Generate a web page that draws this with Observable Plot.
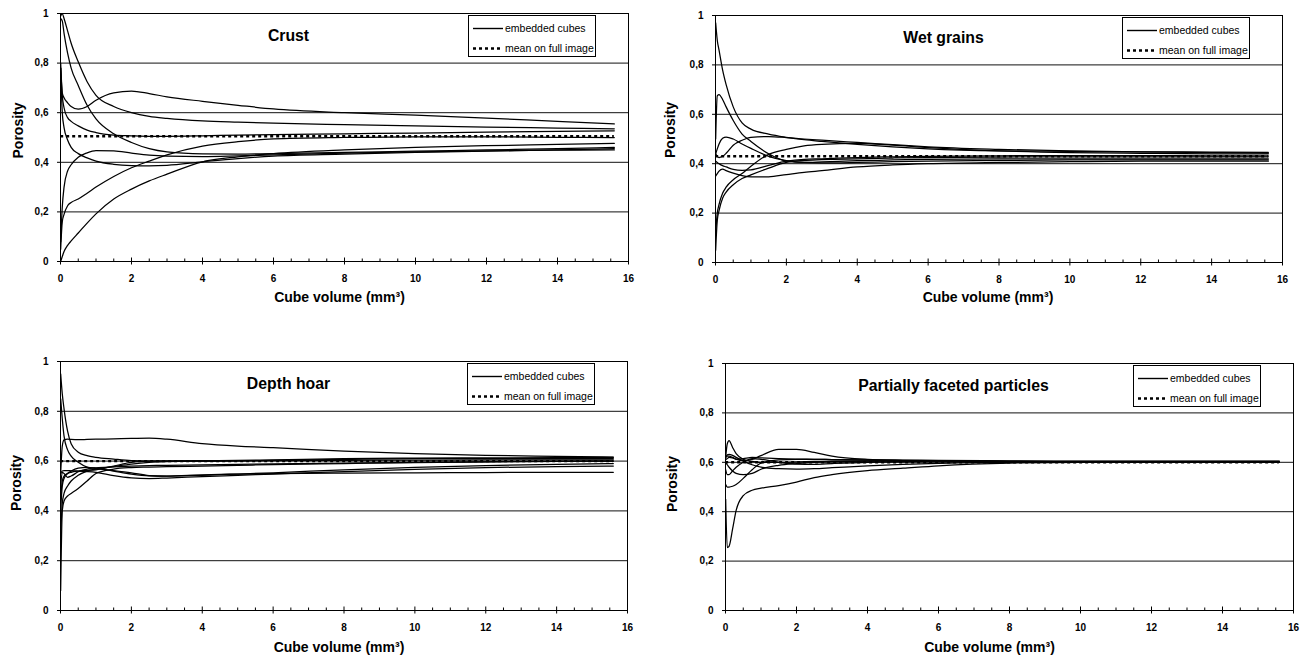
<!DOCTYPE html>
<html>
<head>
<meta charset="utf-8">
<script src="https://cdn.jsdelivr.net/npm/d3@7"></script>
<script src="https://cdn.jsdelivr.net/npm/@observablehq/plot@0.6"></script>
<style>
  html, body { margin: 0; padding: 0; background: #fff; }
  #root { position: relative; width: 1303px; height: 657px; overflow: hidden; font-family: "Liberation Sans", Arial, sans-serif; }
  .panel { position: absolute; }
  .legend { position: absolute; box-sizing: border-box; border: 1px solid #000; background: #fff; }
  .legend .row { position: absolute; left: 0; height: 14px; font-size: 10.5px; line-height: 14px; color: #000; white-space: nowrap; }
  .legend svg { position: absolute; left: 4px; top: 0; }
  .legend span { position: absolute; left: 36px; top: 0; }
</style>
</head>
<body>
<div id="root"></div>
<script>
// ---------- shared axes ----------
const X = [0.005, 0.05, 0.1, 0.2, 0.3, 0.5, 0.75, 1, 1.5, 2, 2.5, 3, 4, 5, 6, 8, 10, 12, 14, 15.6];
const yTicks = [0, 0.2, 0.4, 0.6, 0.8, 1];
const gridValues = [0.2, 0.4, 0.6, 0.8];
const xMajor = [0, 2, 4, 6, 8, 10, 12, 14, 16];
const xMinor = [0.5, 1, 1.5, 2.5, 3, 3.5, 4.5, 5, 5.5, 6.5, 7, 7.5, 8.5, 9, 9.5, 10.5, 11, 11.5, 12.5, 13, 13.5, 14.5, 15, 15.5];
const legendLabels = ["embedded cubes", "mean on full image"];
const xLabel = "Cube volume (mm³)";
const yLabel = "Porosity";

// ---------- Crust ----------
const crustMean = 0.505;
const crust1 = [0.99, 1.0, 0.98, 0.93, 0.88, 0.805, 0.725, 0.67, 0.625, 0.60, 0.585, 0.577, 0.567, 0.562, 0.558, 0.552, 0.547, 0.542, 0.538, 0.535];
const crust2 = [0.98, 0.97, 0.92, 0.84, 0.78, 0.71, 0.63, 0.575, 0.515, 0.48, 0.455, 0.442, 0.434, 0.433, 0.435, 0.44, 0.445, 0.45, 0.455, 0.46];
const crust3 = [0.78, 0.68, 0.66, 0.64, 0.625, 0.614, 0.625, 0.65, 0.68, 0.687, 0.677, 0.664, 0.646, 0.63, 0.615, 0.60, 0.59, 0.578, 0.565, 0.555];
const crust4 = [0.80, 0.67, 0.62, 0.58, 0.565, 0.547, 0.53, 0.52, 0.51, 0.507, 0.505, 0.505, 0.507, 0.51, 0.512, 0.515, 0.518, 0.522, 0.525, 0.527];
const crust5 = [0.78, 0.60, 0.54, 0.49, 0.46, 0.435, 0.418, 0.405, 0.392, 0.387, 0.386, 0.388, 0.402, 0.415, 0.425, 0.433, 0.44, 0.445, 0.45, 0.455];
const crust6 = [0.08, 0.22, 0.30, 0.365, 0.39, 0.42, 0.438, 0.447, 0.446, 0.437, 0.429, 0.425, 0.423, 0.426, 0.43, 0.437, 0.442, 0.446, 0.449, 0.45];
const crust7 = [0.05, 0.16, 0.19, 0.225, 0.238, 0.252, 0.275, 0.30, 0.343, 0.378, 0.405, 0.43, 0.465, 0.483, 0.494, 0.50, 0.503, 0.503, 0.501, 0.50];
const crust8 = [0.0, 0.02, 0.04, 0.065, 0.083, 0.115, 0.155, 0.192, 0.252, 0.292, 0.325, 0.352, 0.402, 0.422, 0.435, 0.45, 0.46, 0.467, 0.472, 0.476];

// ---------- Wet grains ----------
const wetMean = 0.43;
const wet1 = [0.97, 0.90, 0.86, 0.78, 0.72, 0.63, 0.565, 0.54, 0.52, 0.507, 0.497, 0.49, 0.478, 0.468, 0.46, 0.452, 0.45, 0.448, 0.447, 0.446];
const wet2 = [0.50, 0.675, 0.68, 0.66, 0.63, 0.575, 0.52, 0.49, 0.44, 0.41, 0.405, 0.407, 0.412, 0.415, 0.418, 0.42, 0.42, 0.42, 0.42, 0.42];
const wet3 = [0.44, 0.46, 0.48, 0.503, 0.508, 0.50, 0.48, 0.462, 0.43, 0.412, 0.405, 0.403, 0.405, 0.408, 0.41, 0.413, 0.415, 0.415, 0.415, 0.415];
const wet4 = [0.44, 0.43, 0.425, 0.43, 0.442, 0.475, 0.495, 0.507, 0.51, 0.506, 0.50, 0.495, 0.486, 0.477, 0.468, 0.458, 0.452, 0.448, 0.445, 0.443];
const wet5 = [0.41, 0.405, 0.40, 0.392, 0.387, 0.377, 0.373, 0.375, 0.393, 0.41, 0.418, 0.42, 0.425, 0.428, 0.43, 0.432, 0.433, 0.433, 0.432, 0.432];
const wet6 = [0.35, 0.36, 0.37, 0.378, 0.372, 0.362, 0.352, 0.347, 0.347, 0.356, 0.365, 0.372, 0.387, 0.395, 0.40, 0.405, 0.408, 0.41, 0.41, 0.41];
const wet7 = [0.12, 0.20, 0.235, 0.28, 0.305, 0.335, 0.36, 0.39, 0.438, 0.458, 0.472, 0.478, 0.482, 0.475, 0.465, 0.452, 0.445, 0.442, 0.44, 0.44];
const wet8 = [0.05, 0.17, 0.21, 0.26, 0.285, 0.315, 0.34, 0.355, 0.382, 0.405, 0.413, 0.416, 0.42, 0.423, 0.425, 0.427, 0.428, 0.428, 0.428, 0.428];

// ---------- Depth hoar ----------
const hoarMean = 0.60;
const hoar1 = [0.55, 0.66, 0.685, 0.688, 0.687, 0.686, 0.687, 0.688, 0.689, 0.691, 0.692, 0.688, 0.67, 0.66, 0.654, 0.64, 0.63, 0.623, 0.619, 0.616];
const hoar2 = [0.95, 0.87, 0.81, 0.72, 0.67, 0.636, 0.622, 0.615, 0.608, 0.602, 0.60, 0.60, 0.60, 0.601, 0.603, 0.607, 0.61, 0.61, 0.61, 0.61];
const hoar3 = [0.85, 0.77, 0.70, 0.645, 0.62, 0.595, 0.576, 0.57, 0.562, 0.553, 0.542, 0.54, 0.545, 0.548, 0.55, 0.552, 0.553, 0.554, 0.555, 0.555];
const hoar4 = [0.08, 0.40, 0.44, 0.46, 0.47, 0.49, 0.52, 0.55, 0.568, 0.574, 0.576, 0.578, 0.58, 0.583, 0.586, 0.59, 0.594, 0.597, 0.599, 0.60];
const hoar5 = [0.30, 0.43, 0.47, 0.50, 0.52, 0.543, 0.56, 0.568, 0.578, 0.588, 0.595, 0.598, 0.60, 0.601, 0.602, 0.603, 0.604, 0.605, 0.605, 0.605];
const hoar6 = [0.40, 0.50, 0.53, 0.55, 0.56, 0.572, 0.575, 0.572, 0.56, 0.548, 0.541, 0.54, 0.543, 0.548, 0.553, 0.565, 0.575, 0.582, 0.587, 0.59];
const hoar7 = [0.50, 0.555, 0.55, 0.535, 0.54, 0.557, 0.568, 0.573, 0.577, 0.58, 0.582, 0.583, 0.585, 0.587, 0.589, 0.592, 0.595, 0.597, 0.599, 0.60];
const hoar8 = [0.45, 0.52, 0.54, 0.55, 0.555, 0.56, 0.563, 0.565, 0.58, 0.595, 0.60, 0.601, 0.602, 0.603, 0.605, 0.61, 0.612, 0.613, 0.614, 0.615];
const hoar9 = [0.55, 0.56, 0.562, 0.562, 0.561, 0.56, 0.558, 0.555, 0.542, 0.533, 0.53, 0.532, 0.538, 0.543, 0.548, 0.558, 0.567, 0.574, 0.578, 0.58];

// ---------- Partially faceted particles ----------
const facetMean = 0.60;
const facet1 = [0.45, 0.255, 0.26, 0.33, 0.405, 0.465, 0.487, 0.495, 0.506, 0.52, 0.538, 0.55, 0.566, 0.576, 0.586, 0.597, 0.60, 0.60, 0.60, 0.60];
const facet2 = [0.62, 0.675, 0.688, 0.66, 0.635, 0.612, 0.604, 0.60, 0.60, 0.602, 0.604, 0.605, 0.605, 0.605, 0.604, 0.603, 0.602, 0.602, 0.602, 0.602];
const facet3 = [0.62, 0.625, 0.625, 0.62, 0.613, 0.607, 0.612, 0.627, 0.652, 0.652, 0.64, 0.625, 0.612, 0.608, 0.606, 0.605, 0.604, 0.604, 0.604, 0.604];
const facet4 = [0.51, 0.50, 0.50, 0.503, 0.51, 0.535, 0.57, 0.597, 0.61, 0.612, 0.612, 0.611, 0.609, 0.607, 0.605, 0.603, 0.602, 0.601, 0.601, 0.601];
const facet5 = [0.57, 0.55, 0.55, 0.565, 0.58, 0.60, 0.615, 0.612, 0.60, 0.593, 0.592, 0.595, 0.60, 0.602, 0.603, 0.603, 0.602, 0.601, 0.60, 0.60];
const facet6 = [0.60, 0.59, 0.58, 0.565, 0.555, 0.55, 0.555, 0.572, 0.588, 0.595, 0.60, 0.603, 0.605, 0.605, 0.604, 0.603, 0.602, 0.601, 0.60, 0.60];
const facet7 = [0.62, 0.63, 0.632, 0.628, 0.62, 0.605, 0.59, 0.58, 0.574, 0.572, 0.574, 0.578, 0.586, 0.592, 0.596, 0.60, 0.60, 0.60, 0.60, 0.60];
const facet8 = [0.61, 0.615, 0.62, 0.618, 0.612, 0.615, 0.62, 0.618, 0.615, 0.613, 0.612, 0.611, 0.61, 0.609, 0.608, 0.606, 0.605, 0.605, 0.605, 0.605];

const FONT = '"Liberation Sans", Arial, Helvetica, sans-serif';
const fmtY = d => d === 0 ? "0" : d === 1 ? "1" : d.toFixed(1).replace(".", ",");

const panels = [
  {title: "Crust", series: [crust1, crust2, crust3, crust4, crust5, crust6, crust7, crust8], mean: crustMean,
   left: 0, top: 0, w: 650, h: 310, ml: 60, mr: 22, mt: 13, mb: 49, porDx: -42, porDy: -7, labDx: -5, labDy: 36},
  {title: "Wet grains", series: [wet1, wet2, wet3, wet4, wet5, wet6, wet7, wet8], mean: wetMean,
   left: 650, top: 0, w: 653, h: 310, ml: 65, mr: 21, mt: 15, mb: 48, porDx: -45, porDy: -9, labDx: -11, labDy: 35},
  {title: "Depth hoar", series: [hoar1, hoar2, hoar3, hoar4, hoar5, hoar6, hoar7, hoar8, hoar9], mean: hoarMean,
   left: 0, top: 320, w: 650, h: 337, ml: 60, mr: 23, mt: 41, mb: 47, porDx: -44, porDy: -3, labDx: -5, labDy: 37},
  {title: "Partially faceted particles", series: [facet1, facet2, facet3, facet4, facet5, facet6, facet7, facet8], mean: facetMean,
   left: 650, top: 320, w: 653, h: 337, ml: 75, mr: 10, mt: 43, mb: 47, porDx: -53, porDy: -3, labDx: -20, labDy: 37}
];

const root = document.getElementById("root");

for (const p of panels) {
  const innerH = p.h - p.mt - p.mb;
  const rows = p.series.flatMap((ys, i) => X.map((x, j) => ({x, y: ys[j], curve: i})));
  const chart = Plot.plot({
    width: p.w, height: p.h,
    marginLeft: p.ml, marginRight: p.mr, marginTop: p.mt, marginBottom: p.mb,
    style: {fontFamily: FONT, background: "transparent", color: "#000", overflow: "visible"},
    x: {domain: [0, 16]},
    y: {domain: [0, 1]},
    marks: [
      Plot.ruleY(gridValues, {stroke: "#111", strokeWidth: 1}),
      Plot.frame({stroke: "#000", strokeWidth: 1}),
      Plot.tickX(xMinor, {x: d => d, insetTop: innerH - 2.5, stroke: "#000", strokeWidth: 1}),
      Plot.tickX(xMajor, {x: d => d, insetTop: innerH - 3.5, stroke: "#000", strokeWidth: 1}),
      Plot.axisX({ticks: xMajor, tickSize: 3.5, tickPadding: 10, tickFormat: d => String(d), fontSize: 10, fontWeight: "bold", label: null}),
      Plot.axisY({ticks: yTicks, tickSize: 3, tickPadding: 9, tickFormat: fmtY, fontSize: 10, fontWeight: "bold", label: null}),
      Plot.line(rows, {x: "x", y: "y", z: "curve", curve: "monotone-x", stroke: "#000", strokeWidth: 1.25}),
      Plot.ruleY([p.mean], {x1: X[0], x2: X[X.length - 1], stroke: "#000", strokeWidth: 2.4, strokeDasharray: "3,3"}),
      Plot.text([p.title], {frameAnchor: "top-left", dx: 228, dy: 27, text: d => d, textAnchor: "middle", lineAnchor: "bottom", fontSize: 15.8, fontWeight: "bold"}),
      Plot.text([yLabel], {frameAnchor: "left", dx: p.porDx, dy: p.porDy, text: d => d, rotate: -90, textAnchor: "middle", lineAnchor: "middle", fontSize: 14, fontWeight: "bold"}),
      Plot.text([xLabel], {frameAnchor: "bottom", dx: p.labDx, dy: p.labDy, text: d => d, textAnchor: "middle", lineAnchor: "middle", fontSize: 14, fontWeight: "bold"})
    ]
  });
  const wrap = document.createElement("div");
  wrap.className = "panel";
  wrap.style.left = p.left + "px";
  wrap.style.top = p.top + "px";
  wrap.appendChild(chart);
  root.appendChild(wrap);

  // legend box inside the plot area
  const lg = document.createElement("div");
  lg.className = "legend";
  const plotRight = p.left + p.w - p.mr;
  lg.style.left = (plotRight - 160) + "px";
  lg.style.top = (p.top + p.mt + 2) + "px";
  lg.style.width = "128px";
  lg.style.height = "42px";
  legendLabels.forEach((lab, i) => {
    const row = document.createElement("div");
    row.className = "row";
    row.style.top = (i === 0 ? 5 : 25) + "px";
    row.style.width = "126px";
    const dash = i === 0 ? "" : ' stroke-dasharray="3,3"';
    const sw = i === 0 ? 1.4 : 2.4;
    row.innerHTML = `<svg width="31" height="14"><line x1="0" y1="7.5" x2="30" y2="7.5" stroke="#000" stroke-width="${sw}"${dash}/></svg><span>${lab}</span>`;
    lg.appendChild(row);
  });
  root.appendChild(lg);
}
</script>
</body>
</html>
